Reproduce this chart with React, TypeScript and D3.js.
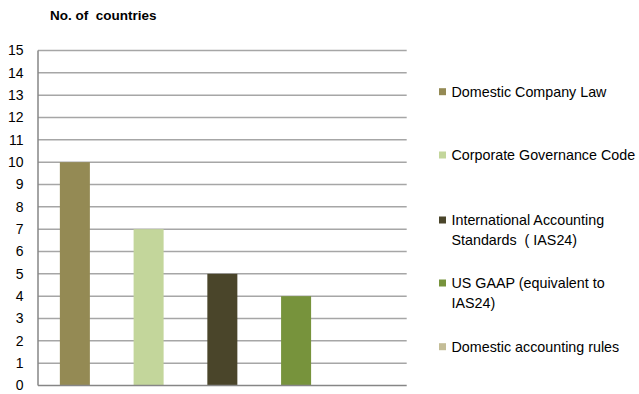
import React from "react";
import * as d3 from "d3";

const categories = [
  "Domestic Company Law",
  "Corporate Governance Code",
  "International Accounting Standards  ( IAS24)",
  "US GAAP (equivalent to IAS24)",
  "Domestic accounting rules",
];
const values = [10, 7, 5, 4, 0];
const colors = ["#948A54", "#C3D69B", "#4A452A", "#77933C", "#C4BD97"];
const legendLines = [
  ["Domestic Company Law"],
  ["Corporate Governance Code"],
  ["International Accounting", "Standards  ( IAS24)"],
  ["US GAAP (equivalent to", "IAS24)"],
  ["Domestic accounting rules"],
];
const yTicks = d3.range(0, 16);
const yTitle = "No. of  countries";

const W = 639;
const H = 394;
const plot = { left: 38, right: 406.7, top: 50.5, bottom: 385.5 };
const font = "'Liberation Sans', Arial, sans-serif";

export default function App() {
  const x = d3.scaleBand<string>().domain(categories).range([plot.left, plot.right]).padding(0);
  const y = d3.scaleLinear().domain([0, 15]).range([plot.bottom, plot.top]);
  const barW = x.step() * 0.407;
  const legendY = [91.7, 155, 220, 283, 346.7];
  return (
    <svg width={W} height={H} style={{ position: "absolute", left: 0, top: 0 }}>
      <rect width={W} height={H} fill="#fff" />
      <text x={50} y={19.5} fontFamily={font} fontWeight="bold" fontSize={13.5} fill="#000" style={{ whiteSpace: "pre" }}>
        {yTitle}
      </text>
      {yTicks.map((t) => (
        <g key={t}>
          {t > 0 && (
            <line x1={plot.left} x2={plot.right} y1={y(t)} y2={y(t)} stroke="#A6A6A6" strokeWidth={1.5} />
          )}
          <text x={23.5} y={y(t)} dy="0.35em" textAnchor="end" fontFamily={font} fontSize={14} fill="#000">
            {t}
          </text>
        </g>
      ))}
      {categories.map((c, i) => (
        <rect
          key={c}
          x={(x(c) as number) + (x.step() - barW) / 2}
          y={y(values[i])}
          width={barW}
          height={y(0) - y(values[i])}
          fill={colors[i]}
        />
      ))}
      <line x1={plot.left} x2={plot.left} y1={plot.top} y2={plot.bottom} stroke="#868686" strokeWidth={1.5} />
      <line x1={plot.left} x2={plot.right} y1={plot.bottom} y2={plot.bottom} stroke="#868686" strokeWidth={1.5} />
      {legendLines.map((lines, i) => {
        const cy = legendY[i];
        return (
          <g key={i}>
            <rect x={439} y={cy - 3.5} width={7} height={7} fill={colors[i]} />
            {lines.map((l, j) => (
              <text key={j} x={451.5} y={cy + j * 20} dy="0.35em" fontFamily={font} fontSize={14.3} fill="#000" style={{ whiteSpace: "pre" }}>
                {l}
              </text>
            ))}
          </g>
        );
      })}
    </svg>
  );
}
